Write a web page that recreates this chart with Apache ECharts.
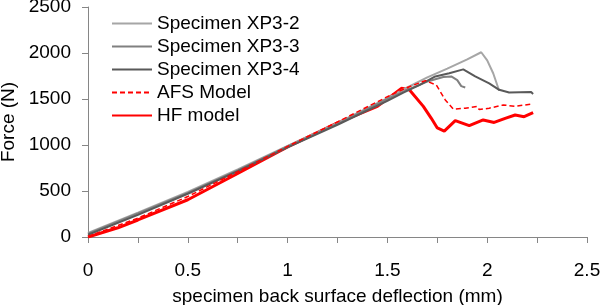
<!DOCTYPE html>
<html lang="en">
<head>
  <meta charset="UTF-8">
  <title>Force vs deflection</title>
  <script src="https://cdn.jsdelivr.net/npm/echarts@6/dist/echarts.min.js"></script>
</head>
<body style="margin:0">
  <div id="main" style="width:600px;height:305px"></div>
  <script>
    // series names
    var names = ['Specimen XP3-2', 'Specimen XP3-3', 'Specimen XP3-4', 'AFS Model', 'HF model'];
    // [deflection mm, force N]
    var xp32 = [[0,45],[0.25,265],[0.5,490],[0.75,735],[1,990],[1.25,1240],[1.5,1510],[1.6,1625],[1.7,1735],[1.8,1830],[1.9,1930],[1.97,2008],[2.0,1920],[2.03,1780],[2.06,1590]];
    var xp33 = [[0,35],[0.25,255],[0.5,480],[0.75,725],[1,985],[1.25,1230],[1.5,1500],[1.6,1600],[1.7,1690],[1.78,1740],[1.82,1745],[1.85,1705],[1.87,1640],[1.89,1625]];
    var xp34 = [[0,25],[0.25,240],[0.5,470],[0.75,715],[1,975],[1.25,1220],[1.5,1480],[1.58,1570],[1.66,1650],[1.74,1745],[1.81,1780],[1.88,1822],[1.94,1745],[2.01,1670],[2.06,1600],[2.11,1570],[2.22,1575],[2.23,1555]];
    var afs = [[0,5],[0.25,205],[0.5,440],[0.75,710],[1,985],[1.25,1250],[1.5,1525],[1.6,1625],[1.69,1700],[1.745,1652],[1.79,1490],[1.83,1390],[1.89,1400],[1.95,1420],[1.96,1385],[2.01,1400],[2.08,1435],[2.14,1420],[2.22,1445]];
    var hf = [[0,0],[0.15,100],[0.25,185],[0.5,405],[0.75,690],[1,980],[1.25,1240],[1.45,1420],[1.57,1616],[1.61,1600],[1.68,1420],[1.72,1290],[1.75,1185],[1.785,1150],[1.84,1265],[1.91,1210],[1.98,1272],[2.035,1245],[2.09,1290],[2.14,1326],[2.185,1308],[2.23,1352]];

    var myChart = echarts.init(document.getElementById('main'));
    var font = 'Liberation Sans';
    var axisCol = '#868686';

    function line(name, data, color, width, type) {
      return {
        name: name,
        type: 'line',
        data: data,
        symbol: 'none',
        lineStyle: { color: color, width: width, type: type || 'solid' },
        itemStyle: { color: color },
        z: name == 'HF model' ? 1 : 2
      };
    }

    var option = {
      animation: false,
      grid: { left: 88, right: 13, top: 7, bottom: 68, outerBoundsMode: 'none' },
      legend: {
        orient: 'vertical',
        left: 106,
        top: 9,
        itemWidth: 40,
        itemHeight: 14,
        itemGap: 4,
        itemStyle: { opacity: 0 },
        textStyle: { fontFamily: font, fontSize: 19, color: '#000' },
        data: names
      },
      xAxis: {
        type: 'value',
        min: 0, max: 2.5, interval: 0.5,
        name: 'specimen back surface deflection (mm)',
        nameLocation: 'middle',
        nameGap: 50,
        nameTextStyle: { fontFamily: font, fontSize: 19, color: '#000' },
        axisLine: { lineStyle: { color: axisCol } },
        axisTick: { length: 6, lineStyle: { color: axisCol } },
        minorTick: { show: true, splitNumber: 2, length: 6, lineStyle: { color: axisCol } },
        axisLabel: { fontFamily: font, fontSize: 19, color: '#000', margin: 24 },
        splitLine: { show: false }
      },
      yAxis: {
        type: 'value',
        min: 0, max: 2500, interval: 500,
        name: 'Force (N)',
        nameLocation: 'middle',
        nameGap: 63,
        nameTextStyle: { fontFamily: font, fontSize: 19, color: '#000' },
        axisLine: { show: true, lineStyle: { color: axisCol } },
        axisTick: { show: true, length: 6, lineStyle: { color: axisCol } },
        axisLabel: { fontFamily: font, fontSize: 19, color: '#000', margin: 17, formatter: function (v) { return String(v); } },
        splitLine: { show: false }
      },
      series: [
        line(names[0], xp32, '#a6a6a6', 2),
        line(names[1], xp33, '#808080', 2),
        line(names[2], xp34, '#595959', 2),
        line(names[3], afs, '#ff0000', 1.5, [5, 3]),
        line(names[4], hf, '#ff0000', 3)
      ]
    };
    myChart.setOption(option);
  </script>
</body>
</html>
